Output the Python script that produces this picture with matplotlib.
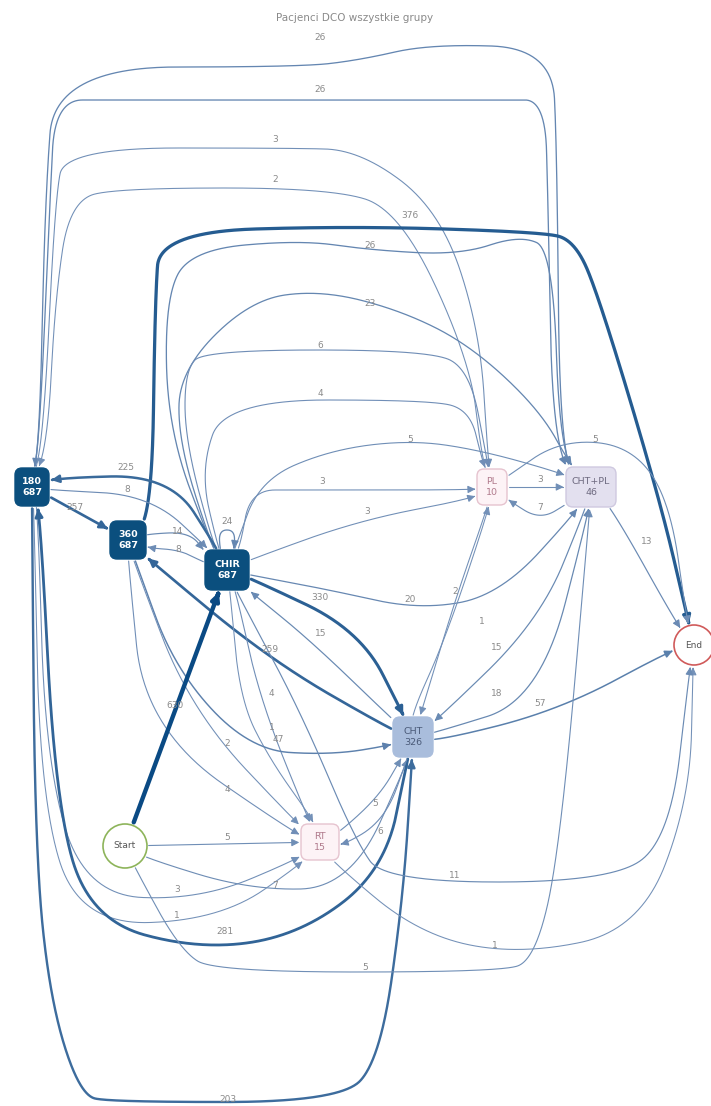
import numpy as np
import matplotlib
matplotlib.use("Agg")
import matplotlib.pyplot as plt
from matplotlib.patches import FancyBboxPatch, Circle, FancyArrowPatch
from matplotlib.path import Path
import matplotlib.colors as mcolors

# ---------------- data ----------------
title = "Pacjenci DCO wszystkie grupy"
node_names = ["180", "360", "CHIR", "PL", "CHT+PL", "CHT", "RT", "Start", "End"]
node_counts = [687, 687, 687, 10, 46, 326, 15, None, None]

edge_from = ["CHT+PL", "180", "180", "PL", "360", "CHIR", "CHIR", "CHIR", "CHIR", "CHIR",
             "PL", "CHIR", "CHIR", "PL", "CHT+PL", "CHT+PL", "CHIR", "180", "180", "360",
             "CHIR", "CHIR", "CHIR", "CHIR", "CHT", "CHT", "CHT", "PL", "CHT+PL", "CHT",
             "CHT", "CHIR", "CHIR", "360", "360", "360", "Start", "Start", "180", "Start",
             "180", "CHT", "180", "Start", "RT", "CHIR", "RT", "CHT"]
edge_to = ["180", "CHT+PL", "PL", "180", "End", "CHT+PL", "CHT+PL", "PL", "PL", "CHT+PL",
           "End", "PL", "PL", "CHT+PL", "PL", "End", "180", "CHIR", "360", "CHIR",
           "360", "CHIR", "CHT", "CHT+PL", "CHIR", "360", "PL", "CHT", "CHT", "CHT+PL",
           "End", "RT", "RT", "CHT", "RT", "RT", "CHIR", "RT", "RT", "CHT",
           "RT", "180", "CHT", "CHT+PL", "End", "End", "CHT", "RT"]
edge_values = [26, 26, 3, 2, 376, 26, 23, 6, 4, 5,
               5, 3, 3, 3, 7, 13, 225, 8, 257, 14,
               8, 24, 330, 20, 15, 259, 1, 2, 15, 18,
               57, 4, 1, 47, 2, 4, 630, 5, 3, 7,
               1, 281, 203, 5, 1, 11, 5, 6]

# ---------------- layout (pixel space of the 711x1106 canvas) ----------------
node_pos = {"180": (32, 487), "360": (128, 540), "CHIR": (227, 570), "PL": (492, 487),
            "CHT+PL": (591, 487), "CHT": (413, 737), "RT": (320, 842),
            "Start": (125, 846), "End": (694, 645)}
node_half = {"180": (17, 19), "360": (18, 19), "CHIR": (22, 20), "PL": (15, 18),
             "CHT+PL": (25, 20), "CHT": (20, 20), "RT": (19, 18)}
circle_r = {"Start": 22, "End": 20}
node_style = {
    "180": ("#0b4f7e", "#0b4f7e", "white"),
    "360": ("#0b4f7e", "#0b4f7e", "white"),
    "CHIR": ("#0b4f7e", "#0b4f7e", "white"),
    "PL": ("#fdf3f6", "#e6c3cf", "#b07a8c"),
    "CHT+PL": ("#e3e0ef", "#cfc9e0", "#6e6a80"),
    "CHT": ("#a9bddc", "#a9bddc", "#4a5a78"),
    "RT": ("#fdf3f6", "#e6c3cf", "#b07a8c"),
    "Start": ("white", "#8db45a", "#555555"),
    "End": ("white", "#d05a5a", "#555555"),
}

# control polygons (quadratic B-spline style routing) for each edge
edge_routes = [
    [(560, 470), (557, 150), (552, 48), (430, 44), (360, 60), (300, 67), (55, 67), (45, 200), (40, 430)],
    [(40, 430), (50, 200), (55, 100), (110, 100), (505, 100), (545, 100), (548, 200), (553, 460)],
    [(44, 430), (55, 200), (65, 148), (290, 148), (360, 150), (440, 210), (480, 330), (488, 460)],
    [(482, 460), (470, 360), (400, 210), (330, 188), (120, 188), (70, 200), (55, 300), (48, 440)],
    [(152, 515), (155, 300), (160, 232), (350, 226), (540, 232), (575, 240), (600, 300), (660, 500), (688, 620)],
    [(212, 548), (168, 430), (165, 300), (190, 250), (300, 240), (370, 250), (460, 255), (520, 235), (553, 250), (560, 460)],
    [(212, 548), (178, 440), (180, 370), (250, 300), (320, 290), (400, 310), (470, 345), (540, 410), (572, 468)],
    [(214, 548), (185, 440), (185, 370), (205, 350), (430, 350), (470, 370), (487, 460)],
    [(218, 548), (200, 470), (225, 400), (430, 400), (470, 410), (482, 460)],
    [(235, 548), (260, 480), (330, 450), (410, 440), (480, 450), (568, 475)],
    [(505, 478), (560, 440), (630, 445), (670, 500), (687, 622)],
    [(240, 549), (250, 490), (300, 490), (476, 490)],
    [(249, 560), (360, 520), (476, 498)],
    [],
    [(570, 502), (540, 520), (508, 500)],
    [(612, 508), (680, 630)],
    [(218, 550), (170, 475), (50, 478)],
    [(50, 490), (150, 495), (212, 552)],
    [],
    [(146, 534), (190, 532), (207, 555)],
    [(205, 563), (180, 550), (147, 548)],
    [(220, 551), (219, 530), (235, 530), (234, 551)],
    [(250, 578), (360, 630), (405, 718)],
    [(250, 575), (330, 590), (420, 610), (500, 595), (578, 510)],
    [(395, 722), (310, 640), (248, 590)],
    [(395, 732), (270, 660), (147, 558)],
    [(410, 717), (445, 640), (490, 506)],
    [(488, 506), (455, 600), (420, 717)],
    [(586, 508), (540, 620), (434, 723)],
    [(434, 733), (540, 700), (590, 508)],
    [(434, 742), (560, 710), (675, 648)],
    [(236, 591), (260, 700), (310, 824)],
    [(230, 591), (240, 700), (270, 760), (316, 824)],
    [(135, 560), (175, 670), (250, 750), (330, 755), (393, 745)],
    [(133, 560), (190, 710), (303, 830)],
    [(128, 560), (145, 730), (301, 838)],
    [],
    [],
    [(38, 507), (45, 760), (85, 895), (200, 900), (303, 857)],
    [(145, 858), (250, 890), (350, 888), (410, 757)],
    [(34, 507), (40, 800), (80, 925), (220, 920), (307, 860)],
    [(408, 757), (385, 870), (300, 935), (200, 950), (90, 920), (55, 800), (40, 507)],
    [(32, 507), (35, 850), (50, 1000), (80, 1095), (110, 1102), (340, 1102), (380, 1060), (403, 900), (412, 760)],
    [(135, 868), (180, 950), (215, 972), (500, 972), (535, 960), (560, 850), (590, 508)],
    [(330, 860), (420, 935), (520, 955), (640, 930), (690, 800), (693, 665)],
    [(236, 591), (300, 710), (355, 840), (385, 882), (610, 882), (670, 840), (690, 666)],
    [(339, 833), (380, 795), (402, 757)],
    [(408, 757), (385, 820), (339, 848)],
]
label_pos = [(320, 38), (320, 90), (275, 140), (275, 180), (410, 215), (370, 245), (370, 303),
             (320, 345), (320, 393), (410, 440), (595, 440), (322, 482), (367, 512), (540, 480),
             (540, 507), (647, 542), (126, 467), (127, 489), (75, 508), (178, 532), (178, 549),
             (227, 521), (320, 598), (410, 600), (321, 634), (270, 650), (482, 622), (455, 592),
             (497, 648), (497, 693), (540, 704), (271, 693), (272, 728), (278, 739), (227, 743),
             (227, 789), (175, 705), (227, 837), (177, 890), (275, 886), (177, 915), (225, 932),
             (228, 1100), (365, 967), (495, 945), (455, 876), (375, 803), (380, 832)]


# ---------------- helpers ----------------
def chaikin(pts, iters=6):
    P = np.array(pts, float)
    for _ in range(iters):
        a, b = P[:-1], P[1:]
        q = 0.75 * a + 0.25 * b
        r = 0.25 * a + 0.75 * b
        mid = np.empty((2 * len(a), 2))
        mid[0::2] = q
        mid[1::2] = r
        P = np.vstack([P[:1], mid, P[-1:]])
    return P


def inside(name, p, pad=1.5):
    cx, cy = node_pos[name]
    if name in circle_r:
        return np.hypot(p[0] - cx, p[1] - cy) <= circle_r[name] + pad
    hw, hh = node_half[name]
    return abs(p[0] - cx) <= hw + pad and abs(p[1] - cy) <= hh + pad


vmax = max(edge_values)
c_light = np.array(mcolors.to_rgb("#7793ba"))
c_dark = np.array(mcolors.to_rgb("#0a4a84"))

# ---------------- figure ----------------
fig = plt.figure(figsize=(7.11, 11.06), dpi=100)
ax = fig.add_axes([0, 0, 1, 1])
ax.set_xlim(0, 711)
ax.set_ylim(1106, 0)
ax.axis("off")

ax.text(355, 18, title, ha="center", va="center", fontsize=7.5, color="#8a8a8a")

for src, dst, val, route, lp in zip(edge_from, edge_to, edge_values, edge_routes, label_pos):
    pts = [node_pos[src]] + list(route) + [node_pos[dst]]
    curve = chaikin(pts)
    i0 = 0
    while i0 < len(curve) - 1 and inside(src, curve[i0]):
        i0 += 1
    i1 = len(curve) - 1
    while i1 > i0 and inside(dst, curve[i1]):
        i1 -= 1
    seg = curve[i0:i1 + 1]
    if len(seg) < 2:
        continue
    t = (val / vmax) ** 0.55
    col = tuple(c_light * (1 - t) + c_dark * t)
    lw = 0.75 + 2.4 * (val / vmax) ** 0.8
    arr = FancyArrowPatch(path=Path(seg), arrowstyle="-|>,head_length=0.45,head_width=0.22",
                          mutation_scale=10, lw=lw, color=col, zorder=2,
                          joinstyle="round", capstyle="round")
    ax.add_patch(arr)
    ax.text(lp[0], lp[1], str(val), ha="center", va="center", fontsize=6.5,
            color="#8a8a8a", zorder=3)

for name, cnt in zip(node_names, node_counts):
    cx, cy = node_pos[name]
    fc, ec, tc = node_style[name]
    if name in circle_r:
        ax.add_patch(Circle((cx, cy), circle_r[name], facecolor=fc, edgecolor=ec, lw=1.2, zorder=4))
        ax.text(cx, cy, name, ha="center", va="center", fontsize=6.5, color=tc, zorder=5)
    else:
        hw, hh = node_half[name]
        ax.add_patch(FancyBboxPatch((cx - hw, cy - hh), 2 * hw, 2 * hh,
                                    boxstyle="round,pad=0,rounding_size=7",
                                    facecolor=fc, edgecolor=ec, lw=1.0, zorder=4))
        bold = "bold" if name in ("180", "360", "CHIR") else "normal"
        ax.text(cx, cy, f"{name}\n{cnt}", ha="center", va="center", fontsize=6.8,
                color=tc, zorder=5, linespacing=1.3, fontweight=bold)

fig.savefig("out.png", dpi=100, facecolor="white")
